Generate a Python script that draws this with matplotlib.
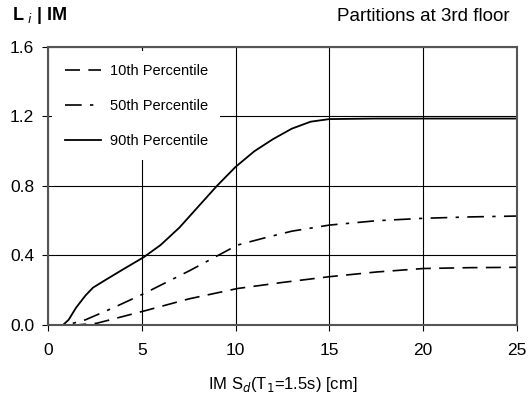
import numpy as np
import matplotlib.pyplot as plt

plt.rcParams['font.family'] = ['Liberation Sans', 'DejaVu Sans']

# 10th percentile
x10 = [0, 1.5, 2.6, 5.1, 7.5, 10.1, 12.5, 15.0, 17.5, 20.0, 22.5, 25.0]
y10 = [0, 0, 0.01, 0.08, 0.15, 0.21, 0.245, 0.278, 0.305, 0.325, 0.33, 0.332]

# 50th percentile
x50 = [0, 1.0, 2.0, 3.5, 5.1, 7.5, 10.1, 11.5, 13.0, 15.0, 17.5, 20.0, 22.5, 25.0]
y50 = [0, 0, 0.03, 0.10, 0.18, 0.31, 0.46, 0.50, 0.54, 0.575, 0.60, 0.614, 0.622, 0.627]

# 90th percentile
x90 = [0, 0.8, 1.1, 1.5, 2.0, 2.4, 3.0, 4.0, 5.1, 6.0, 7.0, 8.0, 9.0, 10.0,
       11.0, 12.0, 13.0, 14.0, 15.0, 17.5, 20.0, 25.0]
y90 = [0, 0, 0.03, 0.10, 0.17, 0.215, 0.255, 0.32, 0.39, 0.46, 0.56, 0.68, 0.80, 0.91,
       1.00, 1.07, 1.13, 1.17, 1.185, 1.188, 1.188, 1.188]

fig = plt.figure(figsize=(5.29, 3.98), dpi=100)
ax = fig.add_axes([0.0907, 0.1834, 0.8866, 0.6986])

ax.plot(x10, y10, color='black', lw=1.2, dashes=(9, 5), label='10th Percentile')
ax.plot(x50, y50, color='black', lw=1.2, dashes=(10, 5, 2, 5), label='50th Percentile')
ax.plot(x90, y90, color='black', lw=1.3, label='90th Percentile')

ax.set_xlim(0, 25)
ax.set_ylim(0, 1.6)
ax.set_xticks([0, 5, 10, 15, 20, 25])
ax.set_yticks([0.0, 0.4, 0.8, 1.2, 1.6])
ax.set_yticklabels(['0.0', '0.4', '0.8', '1.2', '1.6'])
ax.tick_params(labelsize=12.5, direction='out', length=4, color='black')
ax.tick_params(axis='x', pad=9)
ax.tick_params(axis='y', pad=6)
ax.grid(True, color='black', lw=0.8)
ax.set_axisbelow(True)
for s in ax.spines.values():
    s.set_color('#555555')
    s.set_linewidth(1.5)

ax.set_xlabel('IM S$_d$(T$_1$=1.5s) [cm]', fontsize=12, labelpad=12)

fig.text(0.022, 0.96, 'L$_{\\ i}$ | IM', fontsize=13, fontweight='bold', va='center')
fig.text(0.963, 0.958, 'Partitions at 3rd floor', fontsize=13.5, ha='right', va='center')

leg = ax.legend(loc='upper left', fontsize=10.5, frameon=True, facecolor='white',
                edgecolor='none', framealpha=1, handlelength=2.5, handletextpad=0.6,
                labelspacing=1.45, borderaxespad=0.3, borderpad=0.85, fancybox=False)

fig.savefig('out.png', dpi=100)
